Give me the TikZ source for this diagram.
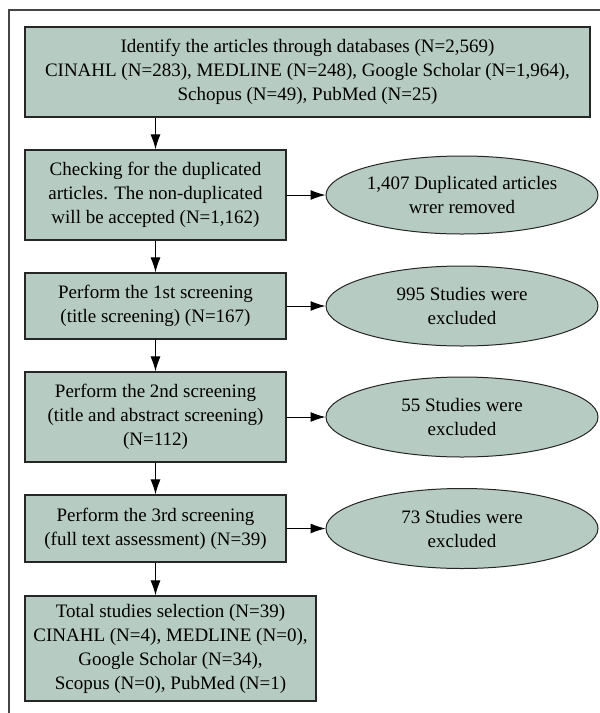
\documentclass[tikz,border=0pt]{standalone}
\usepackage{fontspec}
\setmainfont{Liberation Serif}
\usepackage{xcolor}
\usepackage{tikz}
\usepackage{tkz-euclide}
\usetikzlibrary{positioning,shapes.geometric,arrows.meta}
\definecolor{boxgreen}{RGB}{182,203,193}
\definecolor{edgegray}{RGB}{38,38,38}
\definecolor{framegray}{RGB}{70,70,70}
\tikzset{
  stepbox/.style={draw=edgegray,fill=boxgreen,line width=1.2pt,align=center,
    inner sep=0pt,font=\fontsize{19}{24}\selectfont},
  outcome/.style={ellipse,draw=edgegray,fill=boxgreen,line width=1pt,align=center,
    inner sep=0pt,minimum width=272pt,minimum height=80pt,font=\fontsize{19}{24}\selectfont},
  flow/.style={-{Latex[length=15pt,width=10pt]},line width=1pt}
}

\begin{document}
\begin{tikzpicture}[x=1pt,y=-1pt]
\useasboundingbox (0,0) rectangle (600,713);
\draw[framegray,line width=1.3pt](600,10) -- (9,10) -- (9,713);

\tkzDefPoint(307.5,72){p1};
\node (identify) at (p1)[stepbox,minimum width=565pt,minimum height=90pt]{Identify the articles through databases (N=2,569)\\CINAHL (N=283), MEDLINE (N=248), Google Scholar (N=1,964),\\Schopus (N=49), PubMed (N=25)};

\tkzDefPoint(155.5,195){p2};
\node (dupcheck) at (p2)[stepbox,minimum width=261pt,minimum height=90pt]{Checking for the duplicated\\articles. The non-duplicated\\will be accepted (N=1,162)};

\tkzDefPoint(462,195){e2};
\node (removed) at (e2)[outcome,minimum height=78pt]{1,407 Duplicated articles\\wrer removed};

\tkzDefPoint(155.5,306){p3};
\node (screen1) at (p3)[stepbox,minimum width=261pt,minimum height=66pt]{Perform the 1st screening\\(title screening) (N=167)};

\tkzDefPoint(462,306){e3};
\node (excl1) at (e3)[outcome]{995 Studies were\\excluded};

\tkzDefPoint(155.5,417){p4};
\node (screen2) at (p4)[stepbox,minimum width=261pt,minimum height=90pt]{Perform the 2nd screening\\(title and abstract screening)\\(N=112)};

\tkzDefPoint(462,417){e4};
\node (excl2) at (e4)[outcome]{55 Studies were\\excluded};

\tkzDefPoint(155.5,528.5){p5};
\node (screen3) at (p5)[stepbox,minimum width=261pt,minimum height=67pt]{Perform the 3rd screening\\(full text assessment) (N=39)};

\tkzDefPoint(462,528.5){e5};
\node (excl3) at (e5)[outcome]{73 Studies were\\excluded};

\tkzDefPoint(170.5,648.5){p6};
\node (total) at (p6)[stepbox,minimum width=291pt,minimum height=105pt]{Total studies selection (N=39)\\CINAHL (N=4), MEDLINE (N=0),\\Google Scholar (N=34),\\Scopus (N=0), PubMed (N=1)};

\draw[flow](identify.south -| dupcheck.north) -- (dupcheck.north);
\draw[flow](dupcheck) -- (screen1);
\draw[flow](screen1) -- (screen2);
\draw[flow](screen2) -- (screen3);
\draw[flow](screen3.south) -- (screen3.south |- total.north);

\draw[flow](dupcheck) -- (removed);
\draw[flow](screen1) -- (excl1);
\draw[flow](screen2) -- (excl2);
\draw[flow](screen3) -- (excl3);
\end{tikzpicture}
\end{document}
